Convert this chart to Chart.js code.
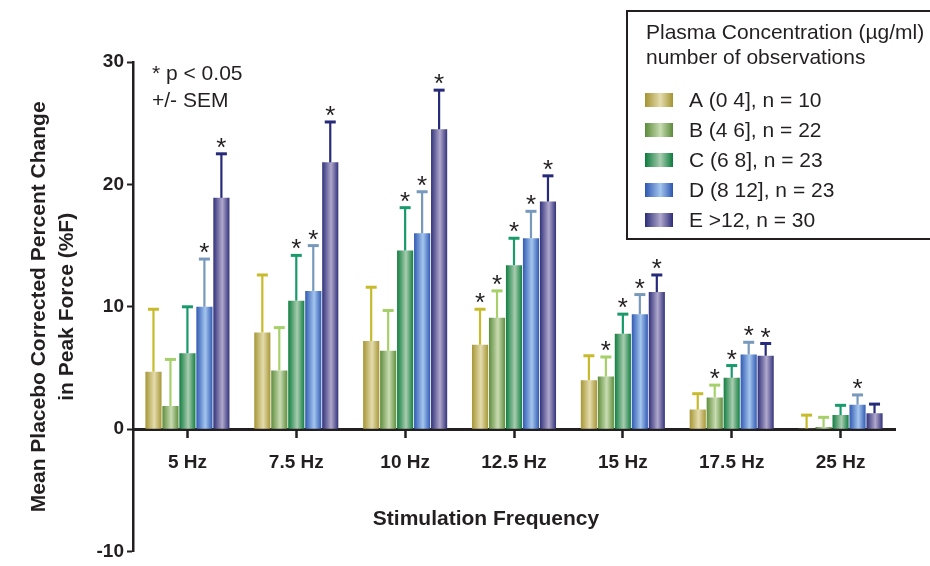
<!DOCTYPE html>
<html>
<head>
<meta charset="utf-8">
<script src="https://cdn.jsdelivr.net/npm/chart.js@4"></script>
<style>
  html, body { margin: 0; padding: 0; background: #fff; }
  #wrap { width: 930px; height: 566px; }
</style>
</head>
<body>
<div id="wrap"><canvas id="barChart" width="930" height="566"></canvas></div>
<script>
// Data
const freqLabels = ['5 Hz', '7.5 Hz', '10 Hz', '12.5 Hz', '15 Hz', '17.5 Hz', '25 Hz'];
const groupLabels = ['A (0 4], n = 10', 'B (4 6], n = 22', 'C (6 8], n = 23', 'D (8 12], n = 23', 'E >12, n = 30'];

const meanA = [4.7, 7.9, 7.2, 6.9, 4.0, 1.6, 0.05];
const meanB = [1.9, 4.8, 6.4, 9.1, 4.3, 2.6, 0.17];
const meanC = [6.2, 10.5, 14.6, 13.4, 7.8, 4.2, 1.15];
const meanD = [10.0, 11.3, 16.0, 15.6, 9.4, 6.1, 2.0];
const meanE = [18.9, 21.8, 24.5, 18.6, 11.2, 6.0, 1.3];

const semA = [5.1, 4.7, 4.4, 2.9, 2.0, 1.3, 1.1];
const semB = [3.8, 3.5, 3.3, 2.2, 1.6, 1.0, 0.8];
const semC = [3.8, 3.7, 3.5, 2.2, 1.6, 1.0, 0.8];
const semD = [3.9, 3.7, 3.4, 2.2, 1.6, 1.0, 0.8];
const semE = [3.6, 3.3, 3.2, 2.1, 1.4, 1.0, 0.75];

// 1 = significant (p < 0.05), gets a star
const sigA = [0, 0, 0, 1, 0, 0, 0];
const sigB = [0, 0, 0, 1, 1, 1, 0];
const sigC = [0, 1, 1, 1, 1, 1, 0];
const sigD = [1, 1, 1, 1, 1, 1, 1];
const sigE = [1, 1, 1, 1, 1, 1, 0];

const yTicks = [-10, 0, 10, 20, 30];

const means = [meanA, meanB, meanC, meanD, meanE];
const sems = [semA, semB, semC, semD, semE];
const sigs = [sigA, sigB, sigC, sigD, sigE];

// colours: dark edge, light middle, error bar
const darkCols = ['#a39330', '#5a8a38', '#0b7a3c', '#2c55b0', '#2b2c76'];
const lightCols = ['#e4dcae', '#c9dcb2', '#a9cdb0', '#a4c6ee', '#b0a8cc'];
const errCols = ['#c7bb2c', '#a6d06a', '#189a6a', '#7898bc', '#262a78'];

const FONT = "'Liberation Sans', Arial, Helvetica, sans-serif";
const INK = '#231f20';
const CAT_PCT = 0.78;
const BAR_PCT = 0.95;

Chart.defaults.font.family = FONT;
Chart.defaults.color = INK;

function shade(ctx, x0, x1, di) {
    const g = ctx.createLinearGradient(x0, 0, x1, 0);
    g.addColorStop(0, darkCols[di]);
    g.addColorStop(0.55, lightCols[di]);
    g.addColorStop(1, darkCols[di]);
    return g;
}

// horizontal shading on each bar, placed from the x scale
function barFill(c) {
    const chart = c.chart;
    const xs = chart.scales.x;
    const di = c.datasetIndex;
    if (!xs || !xs.width || c.dataIndex === undefined) return darkCols[di];
    const n = means.length;
    const slot = xs.width / freqLabels.length * CAT_PCT / n;
    const center = xs.getPixelForValue(c.dataIndex);
    const left = center - slot * n / 2 + di * slot;
    return shade(chart.ctx, left, left + slot, di);
}

// error bars and stars
const errorBars = {
    id: 'errorBars',
    afterDatasetsDraw(chart) {
        const ctx = chart.ctx;
        const ys = chart.scales.y;
        ctx.save();
        chart.data.datasets.forEach((ds, di) => {
            const meta = chart.getDatasetMeta(di);
            meta.data.forEach((el, i) => {
                const top = ys.getPixelForValue(means[di][i] + sems[di][i]);
                ctx.strokeStyle = errCols[di];
                ctx.lineWidth = 2.2;
                ctx.beginPath();
                ctx.moveTo(el.x, el.y);
                ctx.lineTo(el.x, top);
                ctx.stroke();
                ctx.lineWidth = 3;
                ctx.beginPath();
                ctx.moveTo(el.x - 5.5, top);
                ctx.lineTo(el.x + 5.5, top);
                ctx.stroke();
                if (sigs[di][i]) {
                    ctx.fillStyle = INK;
                    ctx.font = '26px ' + FONT;
                    ctx.textAlign = 'center';
                    ctx.textBaseline = 'alphabetic';
                    ctx.fillText('*', el.x, top + 2);
                }
            });
        });
        ctx.restore();
    }
};

// legend box, note and x title
const extras = {
    id: 'extras',
    afterDraw(chart) {
        const ctx = chart.ctx;
        ctx.save();
        ctx.fillStyle = INK;
        ctx.textBaseline = 'middle';
        ctx.textAlign = 'left';

        ctx.font = '21px ' + FONT;
        ctx.fillText('* p < 0.05', 152, 74);
        ctx.fillText('+/- SEM', 152, 101);

        ctx.font = 'bold 21px ' + FONT;
        ctx.textAlign = 'center';
        ctx.fillText('Stimulation Frequency', 486, 519);

        ctx.fillStyle = '#fff';
        ctx.fillRect(627, 11, 310, 228);
        ctx.strokeStyle = INK;
        ctx.lineWidth = 2;
        ctx.strokeRect(627, 11, 310, 228);

        ctx.fillStyle = INK;
        ctx.textAlign = 'left';
        ctx.font = '21px ' + FONT;
        ctx.fillText('Plasma Concentration (\u00b5g/ml)', 646, 33);
        ctx.fillText('number of observations', 646, 58);

        chart.data.datasets.forEach((ds, di) => {
            const cy = 100 + di * 30;
            ctx.fillStyle = shade(ctx, 645, 673, di);
            ctx.fillRect(645, cy - 7, 28, 14);
            ctx.fillStyle = INK;
            ctx.fillText(ds.label, 689, cy + 1);
        });
        ctx.restore();
    }
};

const ctx = document.getElementById('barChart').getContext('2d');
const myChart = new Chart(ctx, {
    type: 'bar',
    data: {
        labels: freqLabels,
        datasets: groupLabels.map((lab, di) => ({
            label: lab,
            data: means[di],
            backgroundColor: barFill,
            borderWidth: 0,
            categoryPercentage: CAT_PCT,
            barPercentage: BAR_PCT
        }))
    },
    options: {
        responsive: false,
        animation: false,
        layout: { padding: { left: 0, right: 35, top: 62, bottom: 14 } },
        plugins: {
            legend: { display: false },
            tooltip: { enabled: false }
        },
        scales: {
            x: {
                position: { y: 0 },
                grid: {
                    offset: false,
                    drawOnChartArea: false,
                    drawTicks: true,
                    tickLength: 7,
                    tickWidth: 2.5,
                    tickColor: INK
                },
                border: { display: true, color: INK, width: 3 },
                ticks: {
                    autoSkip: false,
                    maxRotation: 0,
                    padding: 15,
                    color: INK,
                    font: { size: 19, weight: 'bold' }
                },
                afterFit(scale) { scale.height = 0; }
            },
            y: {
                min: -10,
                max: 30,
                afterBuildTicks(scale) { scale.ticks = yTicks.map(v => ({ value: v })); },
                grid: {
                    drawOnChartArea: false,
                    drawTicks: true,
                    tickLength: 6,
                    tickWidth: 2,
                    tickColor: INK
                },
                border: { display: true, color: INK, width: 2.5 },
                ticks: {
                    padding: 3,
                    color: INK,
                    font: { size: 19, weight: 'bold' }
                },
                title: {
                    display: true,
                    text: ['Mean Placebo Corrected Percent Change', 'in Peak Force (%F)'],
                    color: INK,
                    font: { size: 21, weight: 'bold', lineHeight: 1.3 },
                    padding: { top: 26, bottom: 0 }
                },
                afterFit(scale) { scale.width = 133; }
            }
        }
    },
    plugins: [errorBars, extras]
});
</script>
</body>
</html>
